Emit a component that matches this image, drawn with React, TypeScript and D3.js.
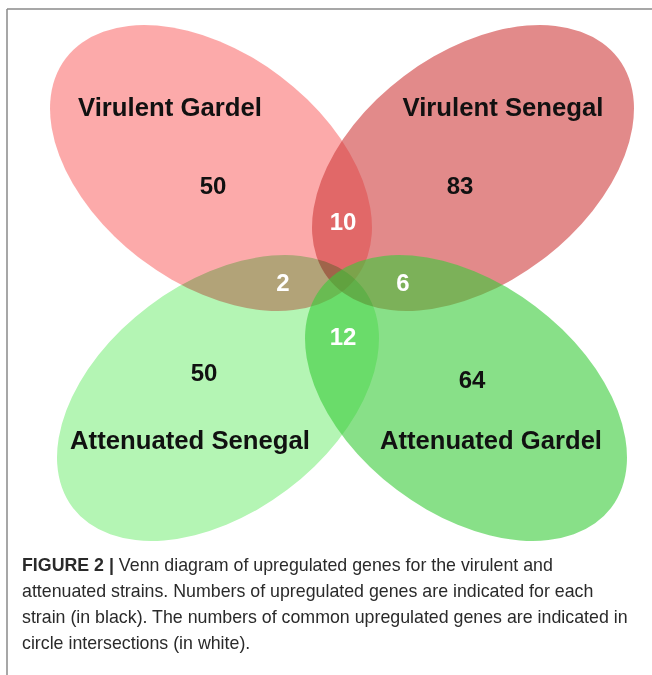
import * as d3 from 'd3';

// sets in drawing order
const setNames = ['Virulent Gardel', 'Virulent Senegal', 'Attenuated Senegal', 'Attenuated Gardel'];
const setColors = ['#fa7171', '#cf3c3c', '#b4f5b4', '#39cb39'];
const uniqueCounts = [50, 83, 50, 64];

// pairwise overlaps shown in white
const pairNames = ['Virulent Gardel ∩ Virulent Senegal', 'Virulent Gardel ∩ Attenuated Senegal', 'Virulent Senegal ∩ Attenuated Gardel', 'Attenuated Senegal ∩ Attenuated Gardel'];
const pairCounts = [10, 2, 6, 12];

const captionLines = [
  'Venn diagram of upregulated genes for the virulent and',
  'attenuated strains. Numbers of upregulated genes are indicated for each',
  'strain (in black). The numbers of common upregulated genes are indicated in',
  'circle intersections (in white).',
];

const W = 652;
const H = 675;

export default function App() {
  // ellipse layout, same order as setNames
  const ellipses = [
    { cx: 211, cy: 168, rot: 37, opacity: 0.6, blend: 'normal' },
    { cx: 473, cy: 168, rot: -37, opacity: 0.6, blend: 'normal' },
    { cx: 218, cy: 398, rot: -37, opacity: 1, blend: 'multiply' },
    { cx: 466, cy: 398, rot: 37, opacity: 0.6, blend: 'normal' },
  ];
  const rx = 182;
  const ry = 115;

  const nameLayout = [
    { x: 170, y: 116, len: 184 },
    { x: 503, y: 116, len: 201 },
    { x: 190, y: 449, len: 240 },
    { x: 491, y: 449, len: 222 },
  ];
  const countLayout = [
    { x: 213, y: 194 },
    { x: 460, y: 194 },
    { x: 204, y: 381 },
    { x: 472, y: 388 },
  ];
  const pairLayout = [
    { x: 343, y: 230 },
    { x: 283, y: 291 },
    { x: 403, y: 291 },
    { x: 343, y: 345 },
  ];

  const lineY = d3.scaleLinear().domain([0, 1]).range([571, 597]);

  return (
    <div style={{ position: 'absolute', left: 0, top: 0 }}>
      <svg width={W} height={H} style={{ display: 'block' }}>
        <rect width={W} height={H} fill="#fff" />
        <line x1={7} y1={9} x2={W} y2={9} stroke="#8a8a8a" strokeWidth={1.5} />
        <line x1={7} y1={9} x2={7} y2={H} stroke="#8a8a8a" strokeWidth={1.5} />

        {ellipses.map((e, i) => (
          <ellipse
            key={setNames[i]}
            cx={e.cx}
            cy={e.cy}
            rx={rx}
            ry={ry}
            transform={`rotate(${e.rot} ${e.cx} ${e.cy})`}
            fill={setColors[i]}
            fillOpacity={e.opacity}
            style={{ mixBlendMode: e.blend as any }}
          />
        ))}

        <g fontFamily="'Liberation Sans', Arial, sans-serif" fontWeight="bold">
          {setNames.map((n, i) => (
            <text
              key={n}
              x={nameLayout[i].x}
              y={nameLayout[i].y}
              textAnchor="middle"
              fontSize={25.5}
              fill="#111"
              textLength={nameLayout[i].len}
              lengthAdjust="spacingAndGlyphs"
            >
              {n}
            </text>
          ))}
          {uniqueCounts.map((c, i) => (
            <text key={'u' + i} x={countLayout[i].x} y={countLayout[i].y} textAnchor="middle" fontSize={24} fill="#111">
              {c}
            </text>
          ))}
          {pairCounts.map((c, i) => (
            <text key={pairNames[i]} x={pairLayout[i].x} y={pairLayout[i].y} textAnchor="middle" fontSize={24} fill="#fff">
              {c}
            </text>
          ))}
        </g>

        <g fontFamily="'Liberation Sans', Arial, sans-serif" fontSize={17.8} fill="#2a2a2a">
          {captionLines.map((l, i) => (
            <text key={i} x={22} y={lineY(i)}>
              {i === 0 && <tspan fontWeight="bold">FIGURE 2 | </tspan>}
              {l}
            </text>
          ))}
        </g>
      </svg>
    </div>
  );
}
